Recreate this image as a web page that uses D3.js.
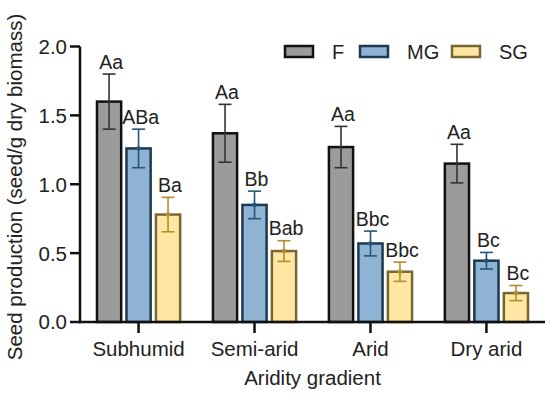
<!DOCTYPE html>
<html>
<head>
<meta charset="utf-8">
<script src="https://cdn.jsdelivr.net/npm/d3@7"></script>
<style>
  body { margin: 0; background: #fff; }
  text { font-family: "Liberation Sans", Arial, sans-serif; fill: #222; }
</style>
</head>
<body>
<div id="chart"></div>
<script>
// aridity sites and the three series
var categories = ["Subhumid", "Semi-arid", "Arid", "Dry arid"]
var series = ["F", "MG", "SG"]

// means
var valF  = [1.60, 1.37, 1.27, 1.15]
var valMG = [1.26, 0.85, 0.57, 0.445]
var valSG = [0.78, 0.515, 0.365, 0.21]

// error bars (+/-)
var errF  = [0.20, 0.21, 0.15, 0.14]
var errMG = [0.14, 0.10, 0.09, 0.06]
var errSG = [0.125, 0.075, 0.07, 0.055]

// significance letters
var lblF  = ["Aa", "Aa", "Aa", "Aa"]
var lblMG = ["ABa", "Bb", "Bbc", "Bc"]
var lblSG = ["Ba", "Bab", "Bbc", "Bc"]

var yTicks = [0, 0.5, 1.0, 1.5, 2.0]

var width = 550,
    height = 397

var fills   = { F: "#9b9b9b", MG: "#8fb3d2", SG: "#fde7a2" }
var strokes = { F: "#111111", MG: "#1b3a52", SG: "#7a6630" }
var errCol  = { F: "#333333", MG: "#24557a", SG: "#b38f2c" }

var svg = d3.select("#chart")
  .append("svg")
    .attr("width", width)
    .attr("height", height)

var x0 = d3.scaleBand()
  .domain(categories)
  .range([80, 545])
  .paddingInner(0.25)
  .paddingOuter(0.13)

var x1 = d3.scaleBand()
  .domain(series)
  .range([0, x0.bandwidth()])
  .paddingInner(0.18)
  .paddingOuter(0.065)

var y = d3.scaleLinear()
  .domain([0, 2])
  .range([322, 46.5])

// build rows
var vals = { F: valF, MG: valMG, SG: valSG }
var errs = { F: errF, MG: errMG, SG: errSG }
var lbls = { F: lblF, MG: lblMG, SG: lblSG }
var rows = []
categories.forEach(function(c, i) {
  series.forEach(function(s) {
    rows.push({ cat: c, s: s, v: vals[s][i], e: errs[s][i], lbl: lbls[s][i] })
  })
})

function cx(d) { return x0(d.cat) + x1(d.s) + x1.bandwidth() / 2 }

// bars
svg.append("g").selectAll("rect")
  .data(rows)
  .enter()
  .append("rect")
    .attr("x", function(d) { return x0(d.cat) + x1(d.s) })
    .attr("y", function(d) { return y(d.v) })
    .attr("width", x1.bandwidth())
    .attr("height", function(d) { return y(0) - y(d.v) })
    .attr("fill", function(d) { return fills[d.s] })
    .attr("stroke", function(d) { return strokes[d.s] })
    .attr("stroke-width", 2.5)

// error bars
var eb = svg.append("g").selectAll("g")
  .data(rows)
  .enter()
  .append("g")
    .attr("stroke", function(d) { return errCol[d.s] })
    .attr("stroke-width", 1.6)

eb.append("line")
  .attr("x1", cx).attr("x2", cx)
  .attr("y1", function(d) { return y(d.v + d.e) })
  .attr("y2", function(d) { return y(d.v - d.e) })
eb.append("line")
  .attr("x1", function(d) { return cx(d) - 6.5 })
  .attr("x2", function(d) { return cx(d) + 6.5 })
  .attr("y1", function(d) { return y(d.v + d.e) })
  .attr("y2", function(d) { return y(d.v + d.e) })
eb.append("line")
  .attr("x1", function(d) { return cx(d) - 6.5 })
  .attr("x2", function(d) { return cx(d) + 6.5 })
  .attr("y1", function(d) { return y(d.v - d.e) })
  .attr("y2", function(d) { return y(d.v - d.e) })
eb.filter(function(d) { return d.s != "F" })
  .append("circle")
    .attr("cx", cx)
    .attr("cy", function(d) { return y(d.v) })
    .attr("r", 2.3)
    .attr("fill", function(d) { return errCol[d.s] })
    .attr("stroke", "none")

// letters
svg.append("g").selectAll("text")
  .data(rows)
  .enter()
  .append("text")
    .attr("x", function(d) { return cx(d) + 2 })
    .attr("y", function(d) { return y(d.v + d.e) - 5.5 })
    .attr("text-anchor", "middle")
    .style("font-size", "19.5px")
    .text(function(d) { return d.lbl })

// y axis
var ya = svg.append("g")
ya.append("line")
  .attr("x1", 80).attr("x2", 80)
  .attr("y1", y(0) + 1.25).attr("y2", y(2))
  .attr("stroke", "#111").attr("stroke-width", 2.5)
ya.selectAll(".tk").data(yTicks).enter()
  .append("line")
    .attr("x1", 70).attr("x2", 80)
    .attr("y1", function(d) { return y(d) })
    .attr("y2", function(d) { return y(d) })
    .attr("stroke", "#111").attr("stroke-width", 2.5)
ya.selectAll("text").data(yTicks).enter()
  .append("text")
    .attr("x", 67)
    .attr("y", function(d) { return y(d) })
    .attr("dy", "0.36em")
    .attr("text-anchor", "end")
    .style("font-size", "20.5px")
    .text(function(d) { return d3.format(".1f")(d) })

// x axis
var xa = svg.append("g")
xa.append("line")
  .attr("x1", 79).attr("x2", 545)
  .attr("y1", y(0)).attr("y2", y(0))
  .attr("stroke", "#111").attr("stroke-width", 2.5)
xa.selectAll(".tk").data(categories).enter()
  .append("line")
    .attr("x1", function(d) { return x0(d) + x0.bandwidth() / 2 })
    .attr("x2", function(d) { return x0(d) + x0.bandwidth() / 2 })
    .attr("y1", y(0)).attr("y2", y(0) + 11)
    .attr("stroke", "#111").attr("stroke-width", 2.5)
xa.selectAll("text").data(categories).enter()
  .append("text")
    .attr("x", function(d) { return x0(d) + x0.bandwidth() / 2 })
    .attr("y", 356)
    .attr("text-anchor", "middle")
    .style("font-size", "20.5px")
    .text(function(d) { return d })

// axis titles
svg.append("text")
  .attr("x", 312.5).attr("y", 385)
  .attr("text-anchor", "middle")
  .style("font-size", "20.5px")
  .text("Aridity gradient")

svg.append("text")
  .attr("transform", "translate(22,187) rotate(-90)")
  .attr("text-anchor", "middle")
  .style("font-size", "20.5px")
  .text("Seed production (seed/g dry biomass)")

// legend
var legX = [285, 360, 452]
var leg = svg.append("g").selectAll("g")
  .data(series)
  .enter()
  .append("g")
    .attr("transform", function(d, i) { return "translate(" + legX[i] + ",46)" })
leg.append("rect")
  .attr("width", 28).attr("height", 11)
  .attr("fill", function(d) { return fills[d] })
  .attr("stroke", function(d) { return strokes[d] })
  .attr("stroke-width", 2.5)
leg.append("text")
  .attr("x", 47)
  .attr("y", 13)
  .style("font-size", "20px")
  .text(function(d) { return d })
</script>
</body>
</html>
